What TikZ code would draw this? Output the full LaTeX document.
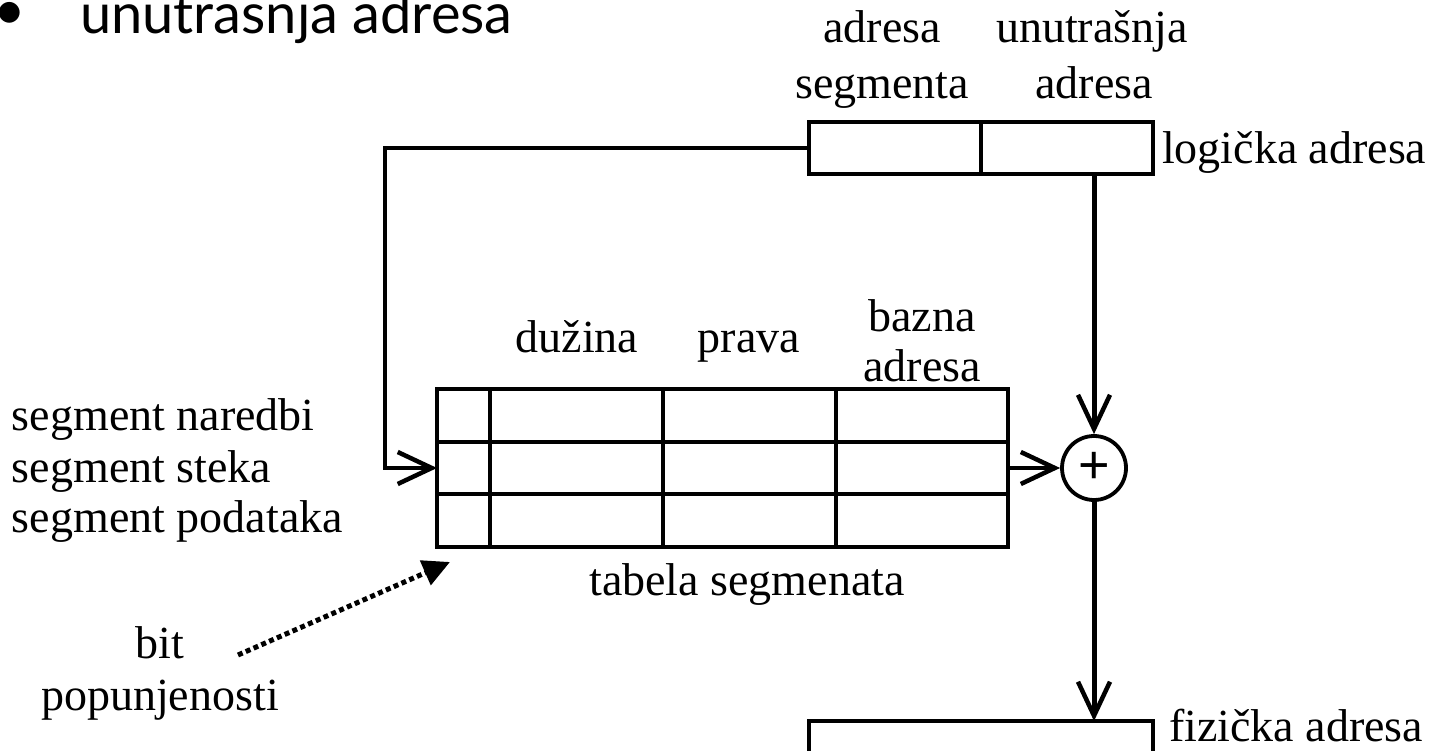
\documentclass[tikz,border=0pt]{standalone}
\usepackage{fontspec}
\setmainfont{Liberation Serif}
\newfontfamily\slidefont{Lato}
\newfontfamily\plusfont{Liberation Sans}
\usetikzlibrary{arrows.meta}
\begin{document}
\begin{tikzpicture}[x=1pt,y=-1pt,
  lbl/.style={font=\fontsize{46}{52}\selectfont, inner sep=0pt, outer sep=0pt},
  slide/.style={font=\slidefont\fontsize{56}{60}\selectfont, inner sep=0pt, outer sep=0pt},
  cell/.style={draw, line width=3.8pt, inner sep=0pt, outer sep=0pt},
  grid/.style={line width=3.8pt},
  conn/.style={line width=4pt},
  vconn/.style={line width=5pt},
  barb/.style={-{Straight Barb[length=34pt,width=32pt,line width=4.5pt]}},
  dotarrow/.style={line width=5pt, dash pattern=on 5pt off 3.5pt, -{Triangle[length=27pt,width=26pt]}},
]
\useasboundingbox (0,0) rectangle (1440,751);
\clip (0,0) rectangle (1440,751);

% slide heading
\node[slide, anchor=center] (bullet) at (10,16) {•};
\node[slide, anchor=base west] (heading) at (80,34) {unutrasnja adresa};

% logical address
\node[cell, minimum width=344pt, minimum height=52pt] (log) at (981,148) {};
\draw[grid] (log.north) -- (log.south);
\node[lbl, anchor=base] (la1) at (882,43) {adresa};
\node[lbl, anchor=base] (la2) at (882,99) {segmenta};
\node[lbl, anchor=base] (lb1) at (1092,43) {unutrašnja};
\node[lbl, anchor=base] (lb2) at (1094,99) {adresa};
\node[lbl, anchor=base west] (logtxt) at (1162,164) {logička adresa};

% segment table
\node[cell, minimum width=571pt, minimum height=158pt] (tab) at (722.5,468) {};
\draw[grid] (490,389) -- (490,547);
\draw[grid] (663,389) -- (663,547);
\draw[grid] (836,389) -- (836,547);
\draw[grid] (437,441.7) -- (1008,441.7);
\draw[grid] (437,494.3) -- (1008,494.3);
\node[lbl, anchor=base] (hd1) at (577,352) {dužina};
\node[lbl, anchor=base] (hd2) at (749,352) {prava};
\node[lbl, anchor=base] (hd3) at (922,331) {bazna};
\node[lbl, anchor=base] (hd4) at (922,381) {adresa};
\node[lbl, anchor=base] (tabtxt) at (747,595) {tabela segmenata};
\node[lbl, anchor=base west] (s1) at (12,430) {segment naredbi};
\node[lbl, anchor=base west] (s2) at (12,482) {segment steka};
\node[lbl, anchor=base west] (s3) at (12,532) {segment podataka};
\node[lbl, anchor=base] (bit1) at (160,658) {bit};
\node[lbl, anchor=base] (bit2) at (160,710) {popunjenosti};

% adder
\node[draw, circle, line width=3.8pt, minimum size=64pt, inner sep=0pt] (sum) at (1094,468)
  {\plusfont\fontsize{54}{54}\selectfont +};

% physical address
\node[cell, minimum width=344pt, minimum height=52pt] (phys) at (981,747) {};
\node[lbl, anchor=base west] (phystxt) at (1169,741) {fizička adresa};

% connectors
\draw[conn, barb] (log.west) -- ++(-424,0) |- (tab.west);
\draw[vconn, barb] (log.south -| sum) -- (sum.north);
\draw[conn, barb] (tab.east) -- (sum.west);
\draw[vconn, barb] (sum.south) -- (phys.north -| sum);
\coordinate (dstart) at (238,655);
\coordinate (dend) at (450,562);
\draw[dotarrow] (dstart) -- (dend);
\end{tikzpicture}
\end{document}
